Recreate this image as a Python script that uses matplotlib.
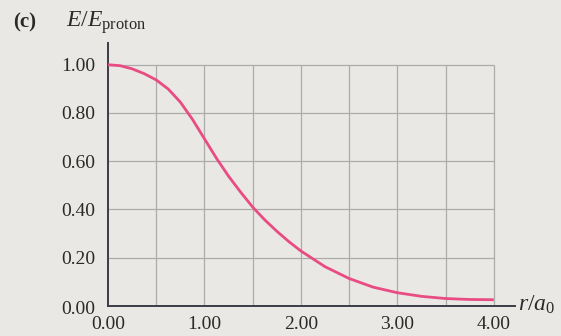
import matplotlib
matplotlib.use("Agg")
import matplotlib.pyplot as plt
import matplotlib.transforms as mtransforms

# Data
r_vals = [0.0, 0.125, 0.25, 0.375, 0.5, 0.625, 0.75, 0.875, 1.0, 1.125, 1.25,
          1.375, 1.5, 1.625, 1.75, 1.875, 2.0, 2.25, 2.5, 2.75,
          3.0, 3.25, 3.5, 3.75, 4.0]
e_vals = [1.000, 0.996, 0.983, 0.963, 0.937, 0.899, 0.845, 0.774, 0.693, 0.612,
          0.538, 0.472, 0.410, 0.357, 0.310, 0.267, 0.228, 0.163, 0.114, 0.078,
          0.055, 0.040, 0.031, 0.027, 0.026]
x_ticks = [0.0, 1.0, 2.0, 3.0, 4.0]
y_ticks = [0.0, 0.2, 0.4, 0.6, 0.8, 1.0]
x_grid = [0.5, 1.0, 1.5, 2.0, 2.5, 3.0, 3.5, 4.0]
y_grid = [0.2, 0.4, 0.6, 0.8, 1.0]

plt.rcParams['font.family'] = ['Liberation Serif', 'DejaVu Serif']
plt.rcParams['mathtext.fontset'] = 'custom'
plt.rcParams['mathtext.rm'] = 'Liberation Serif'
plt.rcParams['mathtext.it'] = 'Liberation Serif:italic'
plt.rcParams['mathtext.bf'] = 'Liberation Serif:bold'

bg = '#e9e8e5'
fig = plt.figure(figsize=(5.61, 3.36), dpi=100, facecolor=bg)
ax = fig.add_axes([108/561, 1-306/336, (515-108)/561, (306-43)/336])
ax.set_facecolor(bg)
ax.set_xlim(0, 4.22)
ax.set_ylim(0, 1.09)

grid_c = '#ababab'
ax.vlines(x_grid, 0, max(y_grid), colors=grid_c, linewidth=0.9, zorder=1)
ax.hlines(y_grid, 0, max(x_grid), colors=grid_c, linewidth=0.9, zorder=1)

ax.plot(r_vals, e_vals, color='#e84c82', linewidth=2.0, zorder=3,
        solid_capstyle='butt', solid_joinstyle='round')

for s in ['top', 'right']:
    ax.spines[s].set_visible(False)
for s in ['left', 'bottom']:
    ax.spines[s].set_color('#3a3d45')
    ax.spines[s].set_linewidth(1.4)

ax.set_xticks(x_ticks)
ax.set_xticklabels([f"{v:.2f}" for v in x_ticks])
ax.set_yticks(y_ticks)
ax.set_yticklabels([f"{v:.2f}" for v in y_ticks])
ax.tick_params(axis='both', length=0, labelsize=14, colors='#2a2a2a')
ax.tick_params(axis='x', pad=7)
ax.tick_params(axis='y', pad=9)

# the 0.00 y label sits slightly lower in the reference
lbl = ax.get_yticklabels()[0]
lbl.set_transform(lbl.get_transform() + mtransforms.ScaledTranslation(0, -2/100, fig.dpi_scale_trans))

fig.text(13/561, 1-27/336, '(c)', fontsize=15, fontweight='bold', color='#2a2a2a',
         ha='left', va='baseline')
fig.text(66/561, 1-27/336, r'$E/E_{\mathrm{proton}}$', fontsize=17, color='#2a2a2a',
         ha='left', va='baseline')
fig.text(518/561, 1-305/336, r'$r/a_0$', fontsize=17, color='#2a2a2a',
         ha='left', va='center')

fig.savefig('out.png', dpi=100, facecolor=bg)
